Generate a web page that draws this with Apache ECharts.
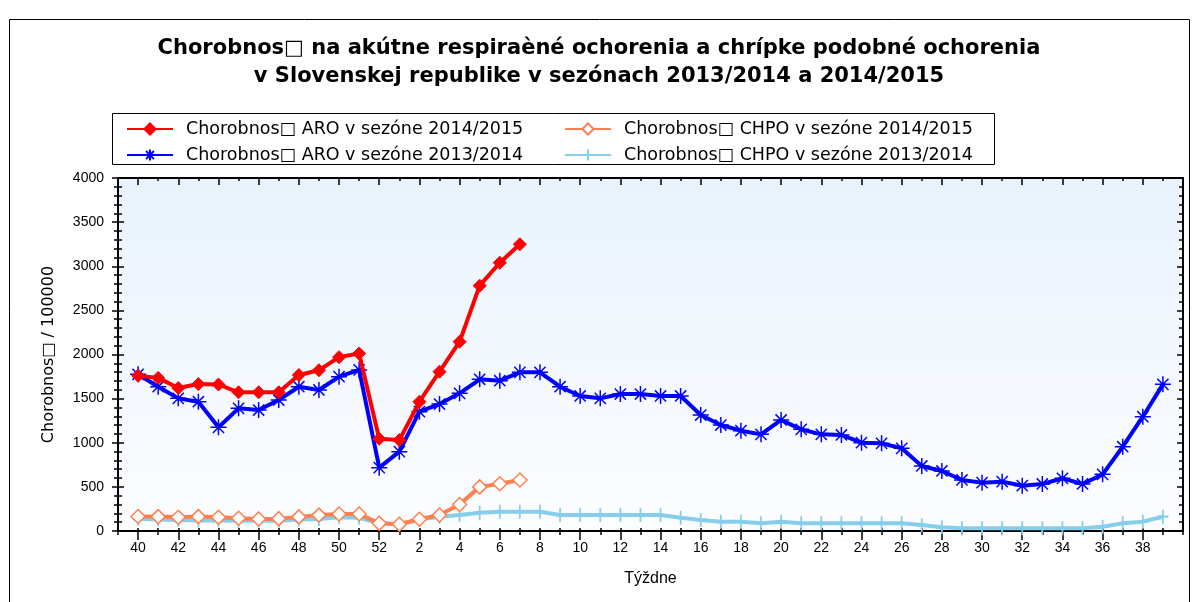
<!DOCTYPE html>
<html><head><meta charset="utf-8">
<script src="https://cdn.jsdelivr.net/npm/echarts@6/dist/echarts.min.js"></script>
<style>html,body{margin:0;padding:0;background:#fff}#c{width:1198px;height:602px}</style>
</head><body><div id="c"></div>
<script>
const weeks = ['40','41','42','43','44','45','46','47','48','49','50','51','52',
  '1','2','3','4','5','6','7','8','9','10','11','12','13','14','15','16','17','18','19','20',
  '21','22','23','24','25','26','27','28','29','30','31','32','33','34','35','36','37','38','39'];
const yTicks = [0, 500, 1000, 1500, 2000, 2500, 3000, 3500, 4000];
const aro1415 = [1760, 1735, 1620, 1665, 1660, 1572, 1572, 1572, 1768, 1822, 1970, 2012, 1045, 1030, 1465, 1805, 2145, 2780, 3040, 3250];
const chpo1415 = [165, 163, 155, 163, 155, 145, 137, 140, 160, 180, 193, 193, 87, 76, 133, 181, 300, 500, 535, 578];
const aro1314 = [1776, 1635, 1503, 1465, 1175, 1390, 1371, 1484, 1635, 1598, 1749, 1825, 718,
  899, 1352, 1439, 1560, 1719, 1703, 1798, 1798, 1635, 1530, 1503, 1552, 1552, 1530, 1530, 1314, 1201, 1137, 1095, 1258,
  1152, 1095, 1088, 1001, 993, 937, 737, 680, 578, 548, 559, 514, 533, 597, 533, 642, 955, 1295, 1662];
const chpo1314 = [140, 130, 125, 120, 120, 115, 115, 115, 130, 135, 155, 150, 87,
  76, 130, 162, 181, 207, 219, 219, 219, 181, 181, 181, 181, 181, 181, 151, 125, 106, 106, 87, 106,
  87, 87, 87, 87, 87, 87, 68, 42, 30, 30, 30, 30, 30, 30, 30, 49, 87, 106, 162];

const nRed = 'Chorobnos\u25A1 ARO v sezóne 2014/2015';
const nOrange = 'Chorobnos\u25A1 CHPO v sezóne 2014/2015';
const nBlue = 'Chorobnos\u25A1 ARO v sezóne 2013/2014';
const nLight = 'Chorobnos\u25A1 CHPO v sezóne 2013/2014';

const cats = [''].concat(weeks, ['']);
function pad(arr) {
  const out = [null];
  for (let i = 0; i < weeks.length; i++) out.push(i < arr.length ? arr[i] : null);
  out.push(null);
  return out;
}
const evenFn = (idx, val) => val !== '' && Number(val) % 2 === 0;
const BLK = '#000';
const tickFont = { color: BLK, fontFamily: 'Liberation Sans', fontSize: 14 };

const xBase = { type: 'category', data: cats, boundaryGap: false, axisLabel: { show: false }, axisLine: { show: false }, splitLine: { show: false } };
const yBase = { type: 'value', min: 0, max: 4000, interval: 500, splitLine: { show: false }, axisLabel: { show: false }, axisLine: { show: false } };

const chart = echarts.init(document.getElementById('c'));
chart.setOption({
  animation: false,
  backgroundColor: '#fff',
  title: {
    text: 'Chorobnos\u25A1 na akútne respiraèné ochorenia a chrípke podobné ochorenia\nv Slovenskej republike v sezónach 2013/2014 a 2014/2015',
    left: 'center', top: 30,
    textStyle: { fontFamily: 'DejaVu Sans', fontWeight: 'bold', fontSize: 21, lineHeight: 28, color: BLK }
  },
  legend: [
    { data: [nRed], left: 126, top: 120 },
    { data: [nOrange], left: 564, top: 120 },
    { data: [nBlue], left: 126, top: 146 },
    { data: [nLight], left: 564, top: 146 }
  ].map(l => Object.assign(l, {
    itemWidth: 46, itemHeight: 14, padding: 0,
    textStyle: { fontFamily: 'DejaVu Sans', fontSize: 17.5, color: BLK, padding: [0, 0, 0, 8] }
  })),
  graphic: [
    { type: 'rect', shape: { x: 112.5, y: 113.5, width: 882, height: 51 }, style: { fill: 'none', stroke: BLK, lineWidth: 1 } },
    { type: 'rect', shape: { x: 9.5, y: 19.5, width: 1180, height: 620 }, style: { fill: 'none', stroke: BLK, lineWidth: 1 } }
  ],
  grid: {
    left: 118, right: 15, top: 178, bottom: 71, show: true, borderWidth: 0,
    backgroundColor: new echarts.graphic.LinearGradient(0, 0, 0, 1, [
      { offset: 0, color: '#e9f3fd' }, { offset: 1, color: '#fcfdff' }
    ])
  },
  xAxis: [
    Object.assign({}, xBase, {
      position: 'bottom',
      axisLine: { show: true, lineStyle: { color: BLK, width: 2 } },
      axisTick: { show: true, interval: 0, length: 4, lineStyle: { color: BLK, width: 1.5 } },
      axisLabel: Object.assign({ show: true, interval: evenFn, margin: 10 }, tickFont),
      name: 'Týždne', nameLocation: 'middle', nameGap: 40,
      nameTextStyle: { color: BLK, fontFamily: 'Liberation Sans', fontSize: 16 }
    }),
    Object.assign({}, xBase, { position: 'bottom', axisTick: { show: true, interval: evenFn, length: 9, lineStyle: { color: BLK, width: 1.5 } } }),
    Object.assign({}, xBase, { position: 'bottom', axisTick: { show: true, interval: 0, inside: true, length: 3, lineStyle: { color: BLK, width: 1.5 } } }),
    Object.assign({}, xBase, { position: 'top', axisLine: { show: true, lineStyle: { color: BLK, width: 2 } }, axisTick: { show: true, interval: 0, inside: true, length: 3, lineStyle: { color: BLK, width: 1.5 } } }),
    Object.assign({}, xBase, { position: 'top', axisTick: { show: true, interval: evenFn, inside: true, length: 7, lineStyle: { color: BLK, width: 1.5 } } })
  ],
  yAxis: [
    Object.assign({}, yBase, {
      position: 'left',
      axisLine: { show: true, lineStyle: { color: BLK, width: 2 } },
      axisTick: { show: true, length: 6, lineStyle: { color: BLK, width: 1.5 } },
      minorTick: { show: true, splitNumber: 5, length: 4, lineStyle: { color: BLK, width: 1.5 } },
      axisLabel: Object.assign({ show: true, margin: 14, formatter: v => yTicks.includes(v) ? String(v) : '' }, tickFont),
      name: 'Chorobnos\u25A1 / 100000', nameLocation: 'middle', nameGap: 61,
      nameTextStyle: { color: BLK, fontFamily: 'DejaVu Sans', fontSize: 16 }
    }),
    Object.assign({}, yBase, {
      position: 'left',
      axisTick: { show: true, inside: true, length: 6, lineStyle: { color: BLK, width: 1.5 } },
      minorTick: { show: true, splitNumber: 5, length: 4, lineStyle: { color: BLK, width: 1.5 } }
    }),
    Object.assign({}, yBase, {
      position: 'right',
      axisLine: { show: true, lineStyle: { color: BLK, width: 2 } },
      axisTick: { show: true, inside: true, length: 6, lineStyle: { color: BLK, width: 1.5 } },
      minorTick: { show: true, splitNumber: 5, length: 4, lineStyle: { color: BLK, width: 1.5 } }
    })
  ],
  series: [
    {
      name: nLight, type: 'line', data: pad(chpo1314), z: 2, showAllSymbol: true,
      symbol: 'path://M5 0 L5 12 M0 6 L10 6', symbolSize: [11, 14], symbolKeepAspect: false,
      lineStyle: { color: '#87CEEB', width: 4 },
      itemStyle: { color: '#87CEEB', borderColor: '#87CEEB', borderWidth: 2 }
    },
    {
      name: nBlue, type: 'line', data: pad(aro1314), z: 3, showAllSymbol: true,
      symbol: 'path://M0 5 L10 5 M5 0 L5 10 M1.5 1.5 L8.5 8.5 M8.5 1.5 L1.5 8.5', symbolSize: 16,
      lineStyle: { color: '#0000ff', width: 4 },
      itemStyle: { color: '#0000ff', borderColor: '#0000ff', borderWidth: 1.5 }
    },
    {
      name: nOrange, type: 'line', data: pad(chpo1415), z: 4, showAllSymbol: true,
      symbol: 'diamond', symbolSize: 14,
      lineStyle: { color: '#ff7f50', width: 4 },
      itemStyle: { color: '#ffffff', borderColor: '#ff7f50', borderWidth: 1.5 }
    },
    {
      name: nRed, type: 'line', data: pad(aro1415), z: 5, showAllSymbol: true,
      symbol: 'diamond', symbolSize: 13,
      lineStyle: { color: '#ff0000', width: 4 },
      itemStyle: { color: '#ff0000', borderColor: '#ff0000', borderWidth: 1 }
    }
  ]
});
</script>
</body></html>
